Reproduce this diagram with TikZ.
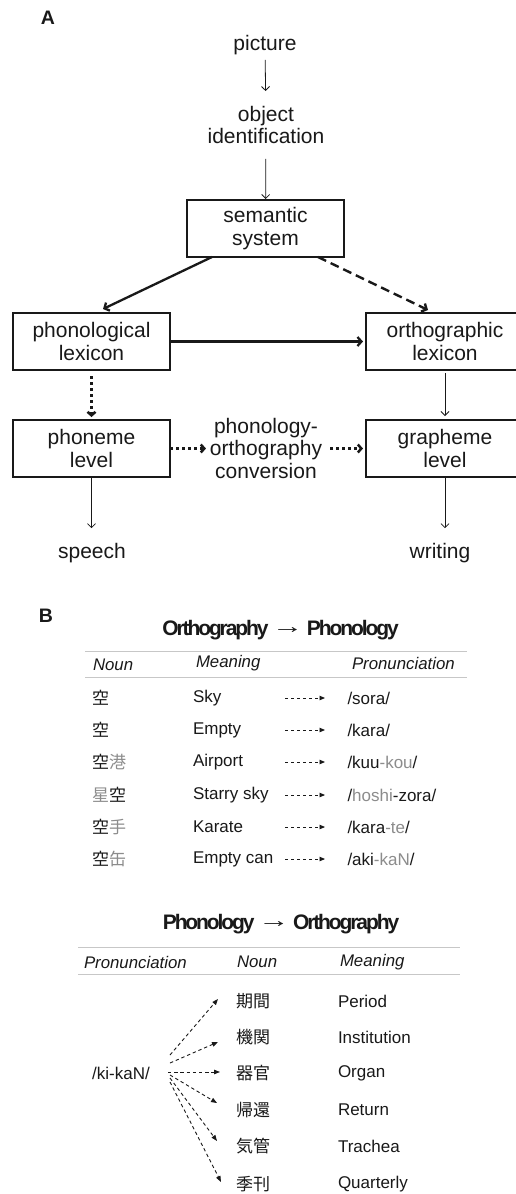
\documentclass[tikz,border=0pt]{standalone}
\usepackage{fontspec}
\setmainfont{Liberation Sans}
\newfontfamily\cjk{Noto Sans CJK JP}
\newfontfamily\ttlfont[LetterSpace=-10]{Liberation Sans}
\usetikzlibrary{arrows.meta,calc}
\definecolor{lightg}{rgb}{0.55,0.55,0.55}
\definecolor{rulec}{rgb}{0.78,0.78,0.78}
\definecolor{ink}{rgb}{0.1,0.1,0.1}
\newcommand{\ttlarrow}{\,\raisebox{1.5pt}{\scalebox{1.5}[1]{→}}\,}
\begin{document}
\begin{tikzpicture}[x=1pt,y=-1pt,
  every node/.style={text=ink,inner sep=0pt,outer sep=0pt},
  lbl/.style={font=\fontsize{19.5}{20}\selectfont\bfseries},
  big/.style={font=\fontsize{21}{22.5}\selectfont,align=center},
  boxnode/.style={big,draw=ink,line width=1.3pt,minimum width=157pt,minimum height=57pt},
  tbl/.style={font=\fontsize{17}{20}\selectfont,anchor=west},
  hdr/.style={font=\fontsize{16.8}{20}\selectfont\itshape,anchor=west},
  jp/.style={font=\fontsize{17}{20}\selectfont\cjk,anchor=west},
  ttl/.style={font=\fontsize{21}{24}\selectfont\ttlfont\bfseries},
  rulel/.style={draw=rulec,line width=1pt},
  thinarr/.style={draw=ink,line width=0.8pt,-{Straight Barb[length=4pt,width=8pt]}},
  thickarr/.style={draw=ink,line width=2.3pt,-{Straight Barb[length=4pt,width=9pt]}},
  dotarr/.style={draw=ink,line width=2.5pt,dash pattern=on 3pt off 3pt,-{Straight Barb[length=3.5pt,width=8pt]}},
  dasharr/.style={draw=ink,line width=2.4pt,dash pattern=on 9pt off 5pt,-{Straight Barb[length=4pt,width=9pt]}},
  tarr/.style={draw=ink,line width=0.9pt,dash pattern=on 3.2pt off 2.8pt,-{Triangle[length=5.5pt,width=4.5pt]}},
  fanarr/.style={draw=ink,line width=0.9pt,dash pattern=on 3.4pt off 2.8pt,-{Triangle[length=6pt,width=4.5pt]}}
]
\useasboundingbox (0,0) rectangle (516,1194);
\fill[white] (0,0) rectangle (516,1194);

% ---------------- Part A ----------------
\node[lbl] (la) at (48,18) {A};
\node[big] (pic) at (265,45) {picture};
\node[big] (obj) at (266,125) {object\\identification};
\node[boxnode] (sem) at (265.5,228.5) {semantic\\system};
\node[boxnode] (phon) at (91.5,341.5) {phonological\\lexicon};
\node[boxnode,minimum width=158pt] (orth) at (445,341.5) {orthographic\\lexicon};
\node[boxnode] (phoneme) at (91.5,448.5) {phoneme\\level};
\node[boxnode,minimum width=158pt] (graph) at (445,448.5) {grapheme\\level};
\node[big] (conv) at (266,448) {phonology-\\orthography\\conversion};
\node[big] (speech) at (92,553) {speech};
\node[big] (writing) at (440,553) {writing};

\draw[thinarr,shorten <=5pt,shorten >=15pt] (pic) -- (obj);
\draw[thinarr,shorten <=15pt,shorten >=1pt] (obj) -- (sem);
\draw[thickarr] ($(sem.south west)+(25,0)$) -- ($(phon.north)+(11.5,-4)$);
\draw[dasharr] ($(sem.south east)+(-26,0)$) -- ($(orth.north)+(-17,-3)$);
\draw[thickarr,shorten >=3pt] (phon.east) -- (orth.west);
\draw[dotarr,shorten <=6pt,shorten >=3pt] (phon.south) -- (phoneme.north);
\draw[dotarr,shorten >=4pt] (phoneme.east) -- (phoneme.east -| conv.west);
\draw[dotarr,shorten <=8pt,shorten >=3pt] (conv.east |- graph.west) -- (graph.west);
\draw[thinarr,shorten <=3pt,shorten >=4pt] (orth.south) -- (graph.north);
\draw[thinarr,shorten >=15pt] (phoneme.south) -- (phoneme.south |- speech.north);
\draw[thinarr,shorten >=15pt] (graph.south) -- (graph.south |- writing.north);

% ---------------- Part B ----------------
\node[lbl] (lb) at (46,616) {B};

% Orthography -> Phonology
\node[ttl] (t1) at (280.5,630) {Orthography\ttlarrow Phonology};
\draw[rulel] (85,651) -- (467,651);
\draw[rulel] (85,677) -- (467,677);
\node[hdr] (h1n) at (93,665) {Noun};
\node[hdr] (h1m) at (196,663) {Meaning};
\node[hdr] (h1p) at (352,663) {Pronunciation};

\node[jp] (n1) at (92,698) {空};
\node[jp] (n2) at (92,730) {空};
\node[jp] (n3) at (92,762) {空\textcolor{lightg}{港}};
\node[jp] (n4) at (92,795) {\textcolor{lightg}{星}空};
\node[jp] (n5) at (92,827) {空\textcolor{lightg}{手}};
\node[jp] (n6) at (92,859) {空\textcolor{lightg}{缶}};

\node[tbl] (m1) at (193,698) {Sky};
\node[tbl] (m2) at (193,730) {Empty};
\node[tbl] (m3) at (193,762) {Airport};
\node[tbl] (m4) at (193,795) {Starry sky};
\node[tbl] (m5) at (193,827) {Karate};
\node[tbl] (m6) at (193,859) {Empty can};

\node[tbl] (p1) at (347.5,698) {/sora/};
\node[tbl] (p2) at (347.5,730) {/kara/};
\node[tbl] (p3) at (347.5,762) {/kuu\textcolor{lightg}{-kou}/};
\node[tbl] (p4) at (347.5,795) {/\textcolor{lightg}{hoshi}-zora/};
\node[tbl] (p5) at (347.5,827) {/kara\textcolor{lightg}{-te}/};
\node[tbl] (p6) at (347.5,859) {/aki\textcolor{lightg}{-kaN}/};

\foreach \i/\yy in {1/698,2/730,3/762,4/795,5/827,6/859}{
  \coordinate (s\i) at (285,\yy);
  \coordinate (e\i) at (325,\yy);
  \draw[tarr] (s\i) -- (e\i);
}

% Phonology -> Orthography
\node[ttl] (t2) at (281,924) {Phonology\ttlarrow Orthography};
\draw[rulel] (78,947) -- (460,947);
\draw[rulel] (78,974) -- (460,974);
\node[hdr] (h2p) at (84,962) {Pronunciation};
\node[hdr] (h2n) at (237,962) {Noun};
\node[hdr] (h2m) at (340,962) {Meaning};

\node[tbl,anchor=center] (kk) at (121,1073) {/ki-kaN/};

\node[jp] (k1) at (236,1001) {期間};
\node[jp] (k2) at (236,1037) {機関};
\node[jp] (k3) at (236,1073) {器官};
\node[jp] (k4) at (236,1110) {帰還};
\node[jp] (k5) at (236,1146) {気管};
\node[jp] (k6) at (236,1184) {季刊};

\node[tbl] (g1) at (338,1001) {Period};
\node[tbl] (g2) at (338,1037) {Institution};
\node[tbl] (g3) at (338,1073) {Organ};
\node[tbl] (g4) at (338,1110) {Return};
\node[tbl] (g5) at (338,1146) {Trachea};
\node[tbl] (g6) at (338,1184) {Quarterly};

\foreach \i/\sx/\sy/\ex/\ey in {1/170/1055/218/999, 2/170/1063/218/1042, 3/168/1072/220/1072, 4/170/1075/217/1103, 5/170/1078/217/1141, 6/170/1082/221/1182}{
  \coordinate (fs\i) at (\sx,\sy);
  \coordinate (fe\i) at (\ex,\ey);
  \draw[fanarr] (fs\i) -- (fe\i);
}
\end{tikzpicture}
\end{document}
